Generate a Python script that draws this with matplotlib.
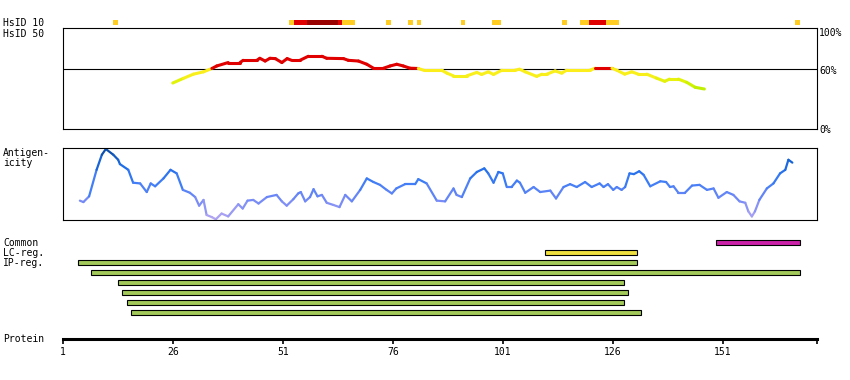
import numpy as np
import matplotlib
matplotlib.use("Agg")
import matplotlib.pyplot as plt
from matplotlib.collections import LineCollection
from matplotlib.colors import LinearSegmentedColormap

# HsID 10 cells: residue ranges and identity level (1 orange, 2 red, 3 dark red)
hsid10_start = [13, 53, 54, 57, 64, 65, 75, 80, 82, 92, 99, 115, 119, 121, 125, 168]
hsid10_end = [13, 53, 56, 63, 64, 67, 75, 80, 82, 92, 100, 115, 120, 124, 127, 168]
hsid10_level = [1, 1, 2, 3, 2, 1, 1, 1, 1, 1, 1, 1, 1, 2, 1, 1]

# HsID 50 similarity (%)
sim_res = [26.0, 28.4, 30.7, 33.0, 34.9, 36.0, 38.6, 41.3, 42.0, 45.1, 45.8, 47.0, 48.1, 49.3,
           50.8, 52.0, 53.0, 54.9, 56.8, 59.9, 61.0, 64.8, 65.9, 68.2, 70.1, 71.6, 73.9, 75.4,
           76.9, 78.4, 79.9, 81.8, 83.0, 87.1, 88.3, 89.8, 92.8, 95.1, 96.2, 97.7, 98.9, 100.8,
           103.8, 104.8, 106.1, 108.7, 109.9, 111.0, 112.9, 114.4, 115.5, 120.8, 122.0, 125.8,
           126.9, 128.7, 130.3, 131.8, 133.7, 135.9, 137.8, 138.9, 140.9, 142.8, 144.7, 146.8]
sim_pct = [45.8, 50.4, 54.6, 56.9, 60.2, 62.7, 66.1, 66.1, 68.3, 68.3, 70.3, 67.6, 70.3, 70.0,
           66.1, 70.0, 68.3, 68.3, 72.3, 72.3, 70.3, 70.0, 68.3, 67.6, 64.4, 60.5, 60.5, 62.7,
           64.4, 62.7, 60.5, 60.2, 58.5, 58.5, 55.6, 52.9, 52.9, 56.3, 54.3, 56.9, 54.3, 58.5,
           58.5, 59.5, 56.9, 52.4, 54.6, 54.6, 57.8, 55.6, 58.5, 58.5, 60.5, 60.5,
           58.5, 54.6, 56.9, 54.6, 54.6, 50.7, 47.5, 49.7, 49.7, 46.5, 41.6, 39.9]

# Antigenicity (relative, 0..1)
ant_res = [4.9, 5.7, 7.0, 8.7, 9.9, 10.8, 12.5, 13.6, 14.0, 15.9, 17.0, 18.6, 20.1, 21.0, 22.0,
           23.9, 25.5, 26.9, 28.3, 29.9, 31.1, 32.0, 33.0, 33.7, 34.9, 35.8, 37.1, 38.6, 40.9,
           41.9, 43.0, 44.3, 45.5, 47.4, 49.6, 50.8, 51.9, 53.4, 54.5, 55.1, 56.1, 57.2, 58.0,
           58.9, 59.9, 61.0, 62.5, 63.9, 65.2, 66.7, 68.6, 70.1, 71.6, 73.1, 74.6, 75.8, 76.8,
           78.8, 81.1, 81.8, 83.7, 86.0, 87.9, 89.8, 90.5, 91.7, 93.6, 95.1, 96.8, 97.7, 98.9,
           100.0, 101.0, 101.9, 103.0, 104.2, 104.9, 106.1, 108.0, 109.5, 111.8, 113.1, 114.8,
           116.3, 117.8, 119.7, 121.2, 123.0, 123.9, 124.9, 126.1, 126.9, 128.0, 128.8, 129.8,
           130.8, 132.0, 133.0, 134.5, 136.8, 138.1, 139.0, 139.8, 140.9, 142.4, 144.0, 145.7,
           147.4, 148.9, 150.0, 151.9, 153.4, 154.8, 156.1, 156.8, 157.6, 158.3, 159.3, 161.0,
           162.5, 164.0, 165.2, 165.9, 166.8]
ant_val = [0.27, 0.25, 0.33, 0.70, 0.91, 0.99, 0.91, 0.84, 0.78, 0.70, 0.52, 0.51, 0.39, 0.51, 0.47,
           0.58, 0.70, 0.65, 0.42, 0.38, 0.32, 0.20, 0.28, 0.07, 0.04, 0.01, 0.09, 0.05, 0.22,
           0.16, 0.27, 0.28, 0.23, 0.32, 0.35, 0.26, 0.20, 0.29, 0.37, 0.39, 0.26, 0.32, 0.43,
           0.33, 0.35, 0.24, 0.21, 0.18, 0.35, 0.26, 0.42, 0.58, 0.53, 0.49, 0.42, 0.37, 0.44,
           0.50, 0.50, 0.57, 0.51, 0.27, 0.26, 0.44, 0.35, 0.32, 0.58, 0.67, 0.72, 0.65, 0.52,
           0.67, 0.65, 0.46, 0.46, 0.55, 0.52, 0.38, 0.46, 0.39, 0.41, 0.30, 0.46,
           0.50, 0.46, 0.53, 0.46, 0.51, 0.46, 0.50, 0.42, 0.46, 0.42, 0.46, 0.65,
           0.64, 0.68, 0.63, 0.47, 0.54, 0.53, 0.46, 0.47, 0.38, 0.38, 0.48, 0.49,
           0.42, 0.44, 0.31, 0.39, 0.35, 0.26, 0.24, 0.12, 0.05, 0.12, 0.28, 0.44,
           0.51, 0.65, 0.70, 0.84, 0.80]

# Regions
common_start, common_end = [150], [168]
lc_start, lc_end = [111], [131]
ip_start = [5, 8, 14, 15, 16, 17]
ip_end = [131, 168, 128, 129, 128, 132]

tick_pos = [1, 26, 51, 76, 101, 126, 151]

# ---- layout (pixels) ----
W, H = 850, 380
X0, X1 = 62.7, 817
XMIN, XMAX = 1, 172.4
FONT = dict(family="DejaVu Sans Mono", fontsize=7)


def rect(x0, y0, x1, y1):
    return [x0 / W, 1 - y1 / H, (x1 - x0) / W, (y1 - y0) / H]


def label(x, y, s, ha="left"):
    fig.text(x / W, 1 - y / H, s, ha=ha, va="baseline", **FONT)


def clean(ax, spines=True):
    ax.set_xlim(XMIN, XMAX)
    ax.set_xticks([])
    ax.set_yticks([])
    for sp in ax.spines.values():
        sp.set_visible(spines)
        sp.set_linewidth(0.8)


fig = plt.figure(figsize=(8.5, 3.8), dpi=100)

# HsID 10 strip
ax10 = fig.add_axes(rect(X0, 20.3, X1, 24.7))
clean(ax10, spines=False)
ax10.set_ylim(0, 1)
lvl_col = {1: "#ffcc22", 2: "#e00000", 3: "#990000"}
for s, e, l in zip(hsid10_start, hsid10_end, hsid10_level):
    ax10.bar(s - 0.5, 1, width=e - s + 1, align="edge", color=lvl_col[l], linewidth=0)

# HsID 50 panel
ax50 = fig.add_axes(rect(X0, 28.3, X1, 129.3))
clean(ax50)
ax50.set_ylim(0, 100)
ax50.axhline(60, color="black", lw=0.8)
sim_cmap = LinearSegmentedColormap.from_list(
    "sim", [(0, "#a8ec00"), (0.45, "#d8f400"), (0.7, "#f6f01a"), (1, "#fcee1c")])
pts = np.column_stack([sim_res, sim_pct])
segs = np.stack([pts[:-1], pts[1:]], axis=1)
cols = []
for a, b in zip(sim_pct[:-1], sim_pct[1:]):
    if a >= 60 and b >= 60:
        cols.append("#e00000")
    else:
        cols.append(sim_cmap(np.clip(((a + b) / 2 - 35) / 25, 0, 1)))
ax50.add_collection(LineCollection(segs, colors=cols, linewidths=2.2, capstyle="round"))

label(819, 36, "100%")
label(819, 74, "60%")
label(819, 133, "0%")

# Antigenicity panel
axa = fig.add_axes(rect(X0, 148.3, X1, 220))
clean(axa)
axa.set_ylim(0, 1)
ant_cmap = LinearSegmentedColormap.from_list(
    "ant", [(0, "#b8a8f2"), (0.3, "#7088f6"), (0.55, "#3a7cf6"), (0.75, "#1e6ce6"), (1, "#0a4aa0")])
pts = np.column_stack([ant_res, ant_val])
segs = np.stack([pts[:-1], pts[1:]], axis=1)
mids = (np.array(ant_val[:-1]) + np.array(ant_val[1:])) / 2
axa.add_collection(LineCollection(segs, colors=ant_cmap(mids), linewidths=1.6, capstyle="round"))

# Regions
axr = fig.add_axes(rect(X0, 237.3, X1, 317.3))
clean(axr, spines=False)
axr.set_ylim(7.5, -0.5)
rows = [(common_start, common_end, "#cc22aa", [0]),
        (lc_start, lc_end, "#f0e040", [1]),
        (ip_start, ip_end, "#a2c95a", list(range(2, 8)))]
for starts, ends, col, ys in rows:
    for s, e, y in zip(starts, ends, ys):
        axr.barh(y, e - s + 1, left=s - 0.5, height=0.45, color=col,
                 edgecolor="black", linewidth=0.8)

# Protein axis
axp = fig.add_axes(rect(X0, 320, X1, 339))
axp.set_xlim(XMIN, XMAX)
axp.set_yticks([])
for k in ["left", "right", "top"]:
    axp.spines[k].set_visible(False)
axp.spines["bottom"].set_linewidth(2.2)
axp.patch.set_visible(False)
axp.set_xticks(tick_pos + [XMAX])
axp.set_xticklabels([str(t) for t in tick_pos] + [""], **FONT)
axp.tick_params(axis="x", direction="out", length=3.5, width=1.2, pad=2)

# Left labels
label(3, 26, "HsID 10")
label(3, 37, "HsID 50")
label(3, 156, "Antigen-")
label(3, 166, "icity")
label(3, 246, "Common")
label(3, 256, "LC-reg.")
label(3, 266, "IP-reg.")
label(3, 342, "Protein")

fig.savefig("out.png", dpi=100)
